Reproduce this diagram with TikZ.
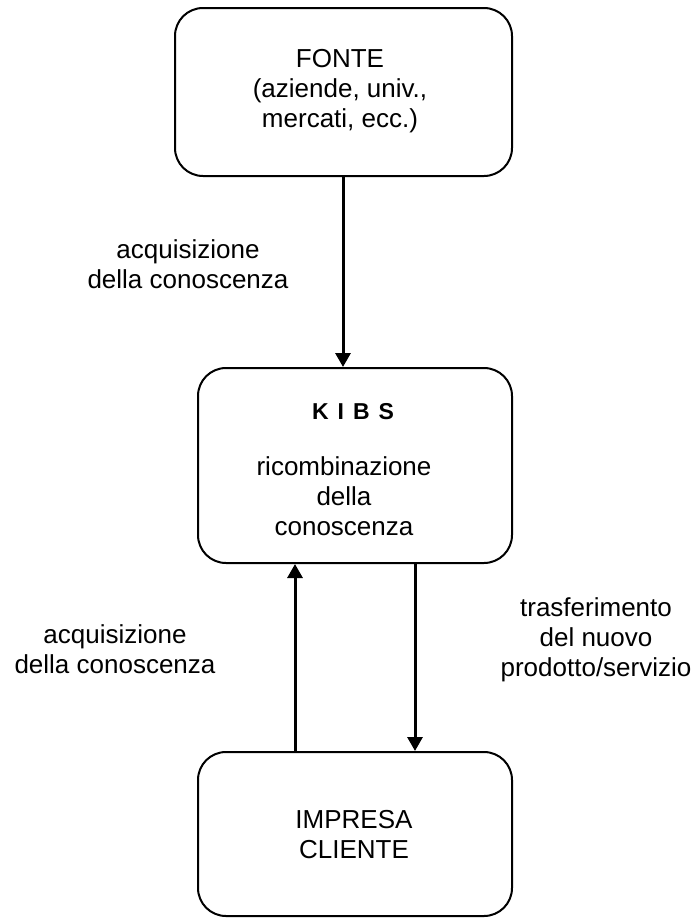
\documentclass[tikz,border=0pt]{standalone}
\usepackage{fontspec}
\setmainfont{Liberation Sans}
\usetikzlibrary{arrows.meta}
\newcommand{\mlines}[1]{\vtop{\halign{\hfil##\hfil\cr#1\crcr}}}
\begin{document}
\begin{tikzpicture}[x=1pt,y=-1pt,
  box/.style={draw, line width=2pt, rounded corners=28pt, inner sep=0pt},
  conn/.style={line width=3pt, -{Triangle[length=14pt,width=15pt]}},
  txt/.style={anchor=base, inner sep=0pt, font=\fontsize{26}{30}\selectfont}]
\useasboundingbox (0,0) rectangle (694,918);
% boxes
\node[box, minimum width=337pt, minimum height=168pt] (fonte) at (343.5,92) {};
\node[box, minimum width=314pt, minimum height=195pt] (kibs) at (355,465.5) {};
\node[box, minimum width=314pt, minimum height=164pt] (cliente) at (355,834) {};
% box texts
\node[txt] (fonteT) at (340,67) {\mlines{FONTE\cr(aziende, univ.,\cr mercati, ecc.)}};
\node[anchor=base, inner sep=0pt, font=\bfseries\fontsize{23}{27}\selectfont] (kibsT) at (353,419) {K\hspace{9pt}I\hspace{9pt}B\hspace{9pt}S};
\node[txt] (kibsD) at (344,475) {\mlines{ricombinazione\cr della\cr conoscenza}};
\node[txt] (clienteT) at (354,828) {\mlines{IMPRESA\cr CLIENTE}};
% connectors
\coordinate (upx) at (295,0);
\coordinate (dnx) at (415,0);
\draw[conn] (fonte.south -| 343,0) -- (kibs.north -| 343,0);
\draw[conn] (upx |- cliente.north) -- (upx |- kibs.south);
\draw[conn] (dnx |- kibs.south) -- (dnx |- cliente.north);
% labels
\node[txt] (acq1) at (188,258) {\mlines{acquisizione\cr della conoscenza}};
\node[txt] (acq2) at (115,643) {\mlines{acquisizione\cr della conoscenza}};
\node[txt] (trasf) at (596,616) {\mlines{trasferimento\cr del nuovo\cr prodotto/servizio}};
\end{tikzpicture}
\end{document}
